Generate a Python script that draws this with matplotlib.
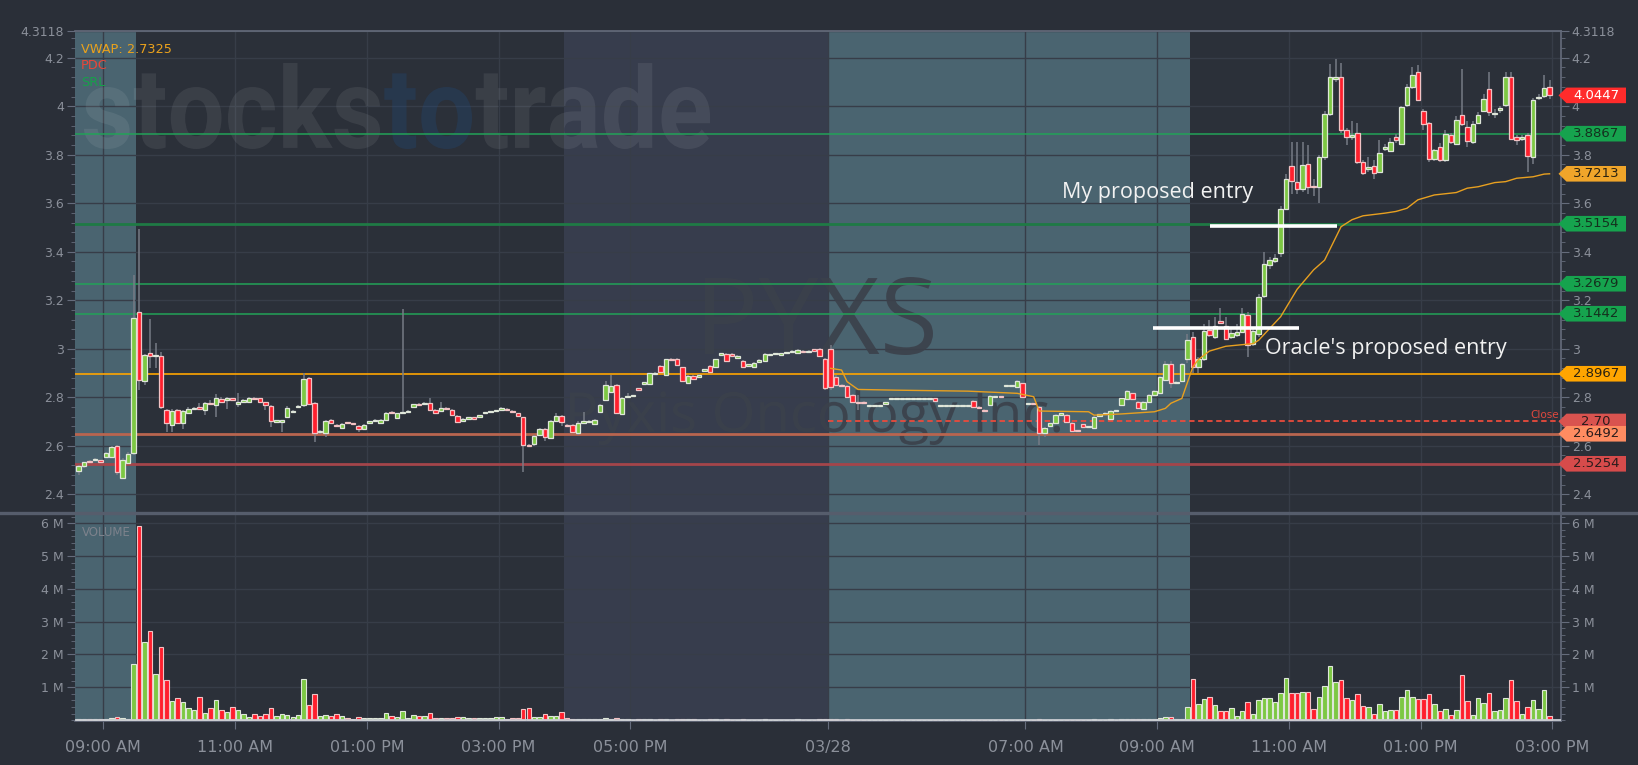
import numpy as np
import matplotlib
matplotlib.use("Agg")
import matplotlib.pyplot as plt
from matplotlib.patches import Rectangle, Polygon, PathPatch
from matplotlib.collections import LineCollection
from matplotlib.lines import Line2D
from matplotlib.textpath import TextPath, TextToPath
from matplotlib.font_manager import FontProperties
from matplotlib.transforms import Affine2D, IdentityTransform
from matplotlib.ticker import FixedLocator, MultipleLocator

# ===================== DATA (5-minute bars, PYXS) =====================
# Day 1 (03/27) pre-market 08:35-09:25
d1_pre_start = "08:35"
d1_pre_open = [2.497, 2.515, 2.537, 2.540, 2.540, 2.552, 2.554, 2.598, 2.468, 2.530, 2.568]
d1_pre_high = [2.520, 2.533, 2.540, 2.550, 2.542, 2.572, 2.600, 2.602, 2.550, 2.572, 3.304]
d1_pre_low = [2.479, 2.510, 2.528, 2.536, 2.532, 2.548, 2.550, 2.480, 2.462, 2.525, 2.560]
d1_pre_close = [2.516, 2.531, 2.531, 2.545, 2.534, 2.568, 2.596, 2.493, 2.543, 2.566, 3.128]
d1_pre_vol = [0.03, 0.02, 0.02, 0.02, 0.02, 0.04, 0.05, 0.10, 0.06, 0.04, 1.71]

# Day 1 regular session 09:30-15:55
d1_reg_start = "09:30"
d1_reg_open = [3.152, 2.866, 2.981, 2.970, 2.971, 2.747,
               2.685, 2.747, 2.692, 2.736, 2.750, 2.757,
               2.747, 2.777, 2.767, 2.794, 2.788, 2.795,
               2.772, 2.781, 2.781, 2.798, 2.795, 2.779,
               2.765, 2.697, 2.700, 2.719, 2.737, 2.758,
               2.767, 2.878, 2.777, 2.655, 2.651, 2.706,
               2.685, 2.674, 2.696, 2.692, 2.681, 2.670,
               2.696, 2.700, 2.695, 2.708, 2.740, 2.715,
               2.737, 2.740, 2.761, 2.772, 2.772, 2.777,
               2.747, 2.744, 2.757, 2.747, 2.723, 2.703,
               2.710, 2.717, 2.720, 2.733, 2.738, 2.742,
               2.747, 2.751, 2.744, 2.733, 2.717, 2.603,
               2.607, 2.644, 2.667, 2.630, 2.703, 2.724]
d1_reg_high = [3.492, 2.980, 3.121, 3.022, 2.985, 2.750,
               2.750, 2.752, 2.748, 2.760, 2.758, 2.775,
               2.780, 2.790, 2.815, 2.800, 2.800, 2.798,
               2.816, 2.792, 2.802, 2.800, 2.798, 2.782,
               2.768, 2.708, 2.708, 2.762, 2.748, 2.766,
               2.898, 2.882, 2.780, 2.664, 2.706, 2.710,
               2.688, 2.693, 2.699, 2.695, 2.684, 2.690,
               2.703, 2.709, 2.711, 2.740, 2.744, 2.736,
               3.162, 2.747, 2.773, 2.776, 2.781, 2.795,
               2.750, 2.781, 2.760, 2.750, 2.726, 2.714,
               2.720, 2.720, 2.728, 2.741, 2.745, 2.749,
               2.760, 2.754, 2.747, 2.736, 2.720, 2.606,
               2.645, 2.672, 2.672, 2.706, 2.735, 2.728]
d1_reg_low = [2.829, 2.850, 2.919, 2.919, 2.750, 2.657,
              2.657, 2.688, 2.667, 2.732, 2.746, 2.750,
              2.726, 2.768, 2.719, 2.778, 2.750, 2.785,
              2.761, 2.778, 2.779, 2.788, 2.778, 2.747,
              2.678, 2.694, 2.657, 2.716, 2.733, 2.755,
              2.760, 2.770, 2.616, 2.650, 2.637, 2.688,
              2.678, 2.670, 2.690, 2.686, 2.657, 2.667,
              2.693, 2.697, 2.692, 2.705, 2.730, 2.712,
              2.734, 2.737, 2.758, 2.763, 2.769, 2.745,
              2.730, 2.740, 2.747, 2.722, 2.696, 2.700,
              2.707, 2.709, 2.717, 2.730, 2.735, 2.739,
              2.744, 2.743, 2.737, 2.721, 2.493, 2.597,
              2.600, 2.640, 2.620, 2.626, 2.700, 2.680]
d1_reg_close = [2.871, 2.974, 2.970, 2.975, 2.761, 2.692,
                2.743, 2.692, 2.743, 2.750, 2.754, 2.754,
                2.777, 2.772, 2.798, 2.781, 2.795, 2.788,
                2.779, 2.788, 2.798, 2.792, 2.781, 2.767,
                2.702, 2.704, 2.704, 2.757, 2.744, 2.763,
                2.875, 2.774, 2.651, 2.660, 2.702, 2.692,
                2.682, 2.689, 2.694, 2.689, 2.667, 2.686,
                2.700, 2.706, 2.708, 2.736, 2.733, 2.733,
                2.740, 2.744, 2.770, 2.766, 2.777, 2.747,
                2.733, 2.757, 2.750, 2.726, 2.699, 2.711,
                2.717, 2.712, 2.725, 2.738, 2.742, 2.746,
                2.757, 2.746, 2.740, 2.724, 2.603, 2.600,
                2.640, 2.667, 2.634, 2.702, 2.722, 2.699]
d1_reg_vol = [5.91, 2.37, 2.71, 1.40, 2.23, 1.22,
              0.58, 0.67, 0.56, 0.38, 0.30, 0.70,
              0.22, 0.38, 0.61, 0.30, 0.24, 0.40,
              0.30, 0.18, 0.09, 0.18, 0.12, 0.19,
              0.37, 0.12, 0.19, 0.15, 0.09, 0.15,
              1.25, 0.45, 0.79, 0.12, 0.15, 0.12,
              0.19, 0.12, 0.06, 0.02, 0.09, 0.06,
              0.05, 0.05, 0.05, 0.22, 0.12, 0.09,
              0.28, 0.05, 0.15, 0.12, 0.12, 0.22,
              0.06, 0.06, 0.06, 0.06, 0.09, 0.09,
              0.06, 0.05, 0.05, 0.05, 0.05, 0.09,
              0.09, 0.04, 0.06, 0.06, 0.35, 0.37,
              0.09, 0.09, 0.18, 0.12, 0.12, 0.25]

# Day 1 after-hours 16:00-19:55
d1_ah_start = "16:00"
d1_ah_open = [2.684, 2.685, 2.651, 2.695, 2.700, 2.690,
              2.737, 2.788, 2.823, 2.850, 2.729, 2.800,
              2.806, 2.836, 2.857, 2.854, 2.898, 2.930,
              2.891, 2.956, 2.956, 2.923, 2.860, 2.887,
              2.884, 2.909, 2.929, 2.923, 2.974, 2.978,
              2.978, 2.963, 2.949, 2.931, 2.923, 2.944,
              2.951, 2.973, 2.977, 2.974, 2.981, 2.986,
              2.984, 2.990, 2.986, 2.997, 3.000, 2.956]
d1_ah_high = [2.690, 2.690, 2.700, 2.740, 2.705, 2.709,
              2.771, 2.865, 2.891, 2.853, 2.801, 2.816,
              2.810, 2.839, 2.864, 2.901, 2.903, 2.933,
              2.959, 2.960, 2.960, 2.926, 2.890, 2.890,
              2.894, 2.918, 2.932, 2.959, 2.984, 2.981,
              2.981, 2.973, 2.952, 2.938, 2.945, 2.956,
              2.981, 2.980, 2.984, 2.984, 2.988, 2.995,
              2.998, 2.993, 2.993, 3.000, 3.003, 2.960]
d1_ah_low = [2.676, 2.652, 2.645, 2.690, 2.697, 2.688,
             2.734, 2.785, 2.820, 2.730, 2.726, 2.797,
             2.800, 2.829, 2.854, 2.851, 2.895, 2.899,
             2.888, 2.952, 2.930, 2.864, 2.857, 2.872,
             2.881, 2.906, 2.902, 2.920, 2.971, 2.948,
             2.968, 2.960, 2.923, 2.928, 2.920, 2.941,
             2.948, 2.970, 2.974, 2.971, 2.978, 2.983,
             2.981, 2.982, 2.983, 2.990, 2.968, 2.830]
d1_ah_close = [2.680, 2.655, 2.695, 2.702, 2.702, 2.706,
               2.768, 2.850, 2.847, 2.733, 2.798, 2.806,
               2.806, 2.832, 2.861, 2.898, 2.900, 2.902,
               2.956, 2.955, 2.933, 2.867, 2.887, 2.875,
               2.891, 2.915, 2.905, 2.956, 2.981, 2.951,
               2.971, 2.970, 2.926, 2.935, 2.942, 2.953,
               2.978, 2.977, 2.981, 2.981, 2.985, 2.992,
               2.995, 2.985, 2.990, 2.993, 2.971, 2.836]
d1_ah_vol = [0.05, 0.04, 0.04, 0.03, 0.02, 0.03,
             0.04, 0.05, 0.04, 0.05, 0.03, 0.02,
             0.01, 0.02, 0.02, 0.03, 0.01, 0.02,
             0.03, 0.01, 0.02, 0.03, 0.02, 0.02,
             0.01, 0.01, 0.02, 0.02, 0.01, 0.02,
             0.01, 0.01, 0.02, 0.01, 0.01, 0.01,
             0.02, 0.01, 0.01, 0.01, 0.01, 0.01,
             0.02, 0.01, 0.01, 0.01, 0.02, 0.04]

# Day 2 (03/28) pre-market 04:00-09:25
d2_pre_start = "04:00"
d2_pre_open = [2.999, 2.885, 2.850, 2.846, 2.809, 2.781,
               2.781, 2.767, 2.767, 2.767, 2.775, 2.795,
               2.795, 2.795, 2.795, 2.795, 2.795, 2.795,
               2.795, 2.795, 2.767, 2.767, 2.767, 2.767,
               2.767, 2.767, 2.785, 2.761, 2.747, 2.768,
               2.803, 2.805, 2.846, 2.848, 2.841, 2.857,
               2.775, 2.775, 2.761, 2.654, 2.682, 2.692,
               2.726, 2.726, 2.695, 2.664, 2.688, 2.678,
               2.671, 2.725, 2.729, 2.709, 2.743, 2.768,
               2.791, 2.816, 2.781, 2.750, 2.781, 2.809,
               2.819, 2.871, 2.937, 2.857, 2.867, 2.957]
d2_pre_high = [3.016, 2.892, 2.853, 2.850, 2.812, 2.809,
               2.784, 2.767, 2.767, 2.767, 2.780, 2.795,
               2.795, 2.795, 2.795, 2.795, 2.795, 2.795,
               2.795, 2.797, 2.767, 2.767, 2.767, 2.767,
               2.767, 2.767, 2.788, 2.764, 2.750, 2.808,
               2.803, 2.807, 2.852, 2.848, 2.870, 2.860,
               2.775, 2.777, 2.764, 2.677, 2.695, 2.729,
               2.736, 2.729, 2.698, 2.666, 2.690, 2.678,
               2.723, 2.731, 2.739, 2.746, 2.749, 2.798,
               2.828, 2.819, 2.784, 2.784, 2.812, 2.828,
               2.888, 2.950, 2.950, 2.865, 2.940, 3.060]
d2_pre_low = [2.829, 2.845, 2.843, 2.798, 2.778, 2.747,
              2.772, 2.767, 2.767, 2.767, 2.773, 2.795,
              2.795, 2.795, 2.795, 2.795, 2.795, 2.795,
              2.795, 2.784, 2.767, 2.767, 2.767, 2.767,
              2.767, 2.767, 2.758, 2.755, 2.740, 2.765,
              2.803, 2.797, 2.844, 2.848, 2.838, 2.799,
              2.775, 2.771, 2.603, 2.636, 2.680, 2.690,
              2.723, 2.696, 2.659, 2.657, 2.675, 2.678,
              2.668, 2.722, 2.726, 2.706, 2.740, 2.765,
              2.788, 2.788, 2.751, 2.747, 2.778, 2.806,
              2.816, 2.868, 2.840, 2.854, 2.864, 2.940]
d2_pre_close = [2.843, 2.850, 2.846, 2.802, 2.781, 2.777,
                2.775, 2.767, 2.767, 2.767, 2.778, 2.795,
                2.795, 2.795, 2.795, 2.795, 2.795, 2.795,
                2.795, 2.786, 2.767, 2.767, 2.767, 2.767,
                2.767, 2.767, 2.761, 2.757, 2.743, 2.805,
                2.803, 2.799, 2.850, 2.848, 2.867, 2.802,
                2.775, 2.773, 2.654, 2.674, 2.692, 2.726,
                2.733, 2.699, 2.662, 2.660, 2.678, 2.678,
                2.720, 2.729, 2.736, 2.743, 2.747, 2.795,
                2.825, 2.791, 2.754, 2.781, 2.809, 2.825,
                2.885, 2.937, 2.857, 2.862, 2.937, 3.036]
d2_pre_vol = [0.03, 0.02, 0.01, 0.02, 0.01, 0.01,
              0.01, 0.005, 0.005, 0.005, 0.005, 0.005,
              0.005, 0.005, 0.005, 0.005, 0.005, 0.005,
              0.005, 0.01, 0.005, 0.005, 0.005, 0.005,
              0.005, 0.005, 0.01, 0.01, 0.01, 0.01,
              0.005, 0.01, 0.01, 0.005, 0.01, 0.01,
              0.005, 0.01, 0.02, 0.01, 0.01, 0.01,
              0.01, 0.01, 0.01, 0.01, 0.01, 0.005,
              0.02, 0.01, 0.01, 0.02, 0.01, 0.02,
              0.02, 0.02, 0.02, 0.02, 0.02, 0.03,
              0.05, 0.08, 0.10, 0.03, 0.04, 0.41]

# Day 2 regular session 09:30-14:55
d2_reg_start = "09:30"
d2_reg_open = [3.049, 2.925, 2.958, 3.079, 3.049, 3.114,
               3.094, 3.049, 3.056, 3.070, 3.139, 3.020,
               3.060, 3.217, 3.345, 3.363, 3.393, 3.578,
               3.753, 3.689, 3.658, 3.761, 3.670, 3.666,
               3.791, 3.969, 4.112, 4.119, 3.900, 3.873,
               3.891, 3.771, 3.743, 3.754, 3.730, 3.825,
               3.814, 3.873, 3.846, 4.003, 4.078, 4.142,
               3.982, 3.930, 3.784, 3.832, 3.778, 3.880,
               3.846, 3.962, 3.914, 3.853, 3.930, 3.982,
               4.071, 3.966, 3.985, 4.003, 4.122, 3.873,
               3.866, 3.880, 3.791, 4.033, 4.041, 4.081]
d2_reg_high = [3.070, 2.965, 3.100, 3.120, 3.130, 3.166,
               3.130, 3.080, 3.100, 3.166, 3.150, 3.090,
               3.225, 3.400, 3.380, 3.390, 3.590, 3.720,
               3.853, 3.853, 3.853, 3.840, 3.700, 3.800,
               3.980, 4.173, 4.194, 4.180, 3.910, 3.940,
               3.930, 3.780, 3.790, 3.780, 3.860, 3.845,
               3.870, 3.885, 4.000, 4.090, 4.160, 4.170,
               3.990, 3.935, 3.825, 3.850, 3.900, 3.890,
               3.960, 4.153, 3.940, 3.940, 3.975, 4.050,
               4.140, 3.990, 4.000, 4.140, 4.140, 3.880,
               3.880, 3.890, 4.035, 4.050, 4.130, 4.110]
d2_reg_low = [2.900, 2.900, 2.950, 3.050, 3.040, 3.100,
              3.035, 3.040, 3.050, 3.065, 2.967, 3.010,
              3.050, 3.210, 3.330, 3.355, 3.380, 3.570,
              3.640, 3.640, 3.645, 3.640, 3.630, 3.600,
              3.780, 3.960, 4.100, 3.890, 3.840, 3.860,
              3.760, 3.715, 3.730, 3.700, 3.725, 3.815,
              3.810, 3.850, 3.840, 3.995, 4.070, 4.020,
              3.900, 3.770, 3.775, 3.770, 3.770, 3.845,
              3.840, 3.920, 3.830, 3.845, 3.925, 3.975,
              3.960, 3.950, 3.970, 3.995, 3.860, 3.840,
              3.855, 3.730, 3.760, 4.025, 4.035, 4.030]
d2_reg_close = [2.925, 2.958, 3.075, 3.056, 3.094, 3.104,
                3.042, 3.063, 3.070, 3.145, 3.015, 3.075,
                3.214, 3.349, 3.365, 3.375, 3.578, 3.700,
                3.690, 3.658, 3.757, 3.666, 3.666, 3.791,
                3.969, 4.119, 4.119, 3.900, 3.873, 3.880,
                3.768, 3.726, 3.750, 3.726, 3.807, 3.832,
                3.853, 3.859, 3.996, 4.081, 4.130, 4.026,
                3.928, 3.784, 3.818, 3.778, 3.887, 3.853,
                3.942, 3.928, 3.855, 3.928, 3.962, 4.030,
                3.975, 3.973, 3.992, 4.122, 3.866, 3.859,
                3.873, 3.794, 4.027, 4.040, 4.075, 4.045]
d2_reg_vol = [1.25, 0.49, 0.64, 0.69, 0.45, 0.27,
              0.27, 0.36, 0.14, 0.27, 0.55, 0.20,
              0.61, 0.66, 0.66, 0.56, 0.83, 1.28,
              0.84, 0.84, 0.87, 0.87, 0.33, 0.69,
              1.04, 1.65, 1.16, 1.22, 0.67, 0.61,
              0.79, 0.43, 0.40, 0.20, 0.49, 0.27,
              0.30, 0.30, 0.69, 0.91, 0.70, 0.64,
              0.64, 0.79, 0.49, 0.27, 0.34, 0.17,
              0.30, 1.37, 0.58, 0.15, 0.67, 0.52,
              0.82, 0.27, 0.30, 0.67, 1.22, 0.58,
              0.18, 0.40, 0.61, 0.34, 0.91, 0.14]

# Day 2 VWAP
vwap_times = ["04:00", "04:10", "04:15", "04:25", "05:00", "06:05", "06:50", "07:05",
              "07:10", "07:55", "08:00", "08:25", "08:55", "09:05", "09:10", "09:20",
              "09:30", "09:35", "09:45", "10:00", "10:25", "10:30", "10:50", "11:05",
              "11:20", "11:30", "11:45", "11:55", "12:05", "12:25", "12:35", "12:45",
              "12:55", "13:10", "13:30", "13:40", "13:50", "14:05", "14:15", "14:25",
              "14:40", "14:50", "14:55"]
vwap_values = [2.919, 2.912, 2.864, 2.832, 2.829, 2.825, 2.816, 2.802,
               2.743, 2.740, 2.726, 2.731, 2.740, 2.754, 2.775, 2.795,
               2.925, 2.955, 2.990, 3.010, 3.021, 3.035, 3.132, 3.245,
               3.325, 3.365, 3.503, 3.532, 3.548, 3.559, 3.566, 3.579,
               3.614, 3.634, 3.644, 3.662, 3.668, 3.685, 3.689, 3.703,
               3.709, 3.720, 3.7213]

# Horizontal levels
srl_levels = [3.8867, 3.5154, 3.2679, 3.1442]
pdc_level = 2.70
orange_level = 2.8967
salmon_level = 2.6492
red_level = 2.5254
last_price = 4.0447
vwap_last = 3.7213

# Annotations (day 2 times)
my_entry_price = 3.507
my_entry_span = ("09:48", "11:44")
oracle_entry_price = 3.086
oracle_entry_span = ("08:56", "11:09")
my_text_pos = ("07:33", 3.621)
oracle_text_pos = ("10:38", 2.978)

# Axis ticks
price_ticks = [2.4, 2.6, 2.8, 3.0, 3.2, 3.4, 3.6, 3.8, 4.0, 4.2, 4.3118]
price_tick_labels = ["2.4", "2.6", "2.8", "3", "3.2", "3.4", "3.6", "3.8", "4", "4.2", "4.3118"]
vol_ticks = [1, 2, 3, 4, 5, 6]
vol_tick_labels = ["1 M", "2 M", "3 M", "4 M", "5 M", "6 M"]
time_ticks = [(1, "09:00"), (1, "11:00"), (1, "13:00"), (1, "15:00"), (1, "17:00"),
              (2, "04:00"), (2, "07:00"), (2, "09:00"), (2, "11:00"), (2, "13:00"), (2, "15:00")]
time_tick_labels = ["09:00 AM", "11:00 AM", "01:00 PM", "03:00 PM", "05:00 PM", "03/28",
                    "07:00 AM", "09:00 AM", "11:00 AM", "01:00 PM", "03:00 PM"]

# ===================== SCALE / STYLE =====================
W, H = 1638, 765
DAY2_OFFSET = 16.0  # overnight 20:00 -> 04:00 gap removed
BAR = 5 / 60.0
BG = "#2a2f38"
AXBG = "#2b3039"
TEAL = "#4a6470"
AHC = "#373d4d"
GRID = "#373d48"
SPINE = "#656c7c"
TXT = "#8b909a"
GREEN = "#7dc843"
RED = "#ff1f2d"
EDGE_G = "#dfe6da"
EDGE_R = "#f2c2c4"
WICK = "#767b85"
CW = 0.068


def hh(s):
    h, m = s.split(":")
    return int(h) + int(m) / 60.0


def tx(day, s):
    return hh(s) + (DAY2_OFFSET if day == 2 else 0.0)


def bar_x(day, start, n):
    return tx(day, start) + (np.arange(n) + 0.5) * BAR


sessions = [
    (1, d1_pre_start, d1_pre_open, d1_pre_high, d1_pre_low, d1_pre_close, d1_pre_vol),
    (1, d1_reg_start, d1_reg_open, d1_reg_high, d1_reg_low, d1_reg_close, d1_reg_vol),
    (1, d1_ah_start, d1_ah_open, d1_ah_high, d1_ah_low, d1_ah_close, d1_ah_vol),
    (2, d2_pre_start, d2_pre_open, d2_pre_high, d2_pre_low, d2_pre_close, d2_pre_vol),
    (2, d2_reg_start, d2_reg_open, d2_reg_high, d2_reg_low, d2_reg_close, d2_reg_vol),
]

fig = plt.figure(figsize=(W / 100, H / 100), dpi=100, facecolor=BG)


def px_axes(l, t, r, b):
    return fig.add_axes([l / W, 1 - b / H, (r - l) / W, (b - t) / H])


PL, PR = 75.2, 1560.7
ax = px_axes(PL, 30.6, PR, 512.0)
axv = px_axes(PL, 514.0, PR, 720.5)

XLIM = (8.572, 31.127)
YLIM = (2.3266, 4.3118)
VLIM = (-0.012, 6.28)

for a in (ax, axv):
    a.set_facecolor(AXBG)
    a.set_axisbelow(True)
    a.set_xlim(*XLIM)
    # session shading
    a.axvspan(7.0, tx(1, "09:30"), color=TEAL, zorder=0.2, lw=0)
    a.axvspan(tx(1, "16:00"), tx(1, "20:00"), color=AHC, zorder=0.2, lw=0)
    a.axvspan(tx(2, "04:00"), tx(2, "09:30"), color=TEAL, zorder=0.2, lw=0)
    a.set_xticks([tx(d, s) for d, s in time_ticks])
    a.grid(True, which="major", color=GRID, lw=1.0)
    for sp in a.spines.values():
        sp.set_visible(False)
    a.spines["right"].set_visible(True)
    a.spines["right"].set_color(SPINE)
    a.spines["right"].set_linewidth(1.2)

ax.set_ylim(*YLIM)
axv.set_ylim(*VLIM)
ax.spines["top"].set_visible(True)
ax.spines["top"].set_color(SPINE)
ax.spines["top"].set_linewidth(1.2)
axv.spines["bottom"].set_visible(True)
axv.spines["bottom"].set_color(SPINE)
axv.spines["bottom"].set_linewidth(1.2)

# y ticks price
ax.yaxis.set_major_locator(FixedLocator(price_ticks))
ax.set_yticklabels(price_tick_labels)
ax.yaxis.set_minor_locator(FixedLocator(np.arange(2.36, 4.31, 0.04)))
ax.tick_params(axis="y", which="both", left=True, right=True, labelleft=True, labelright=True,
               direction="out", color=SPINE, labelcolor=TXT, labelsize=9, pad=2)
ax.tick_params(axis="y", which="major", length=6)
ax.tick_params(axis="y", which="minor", length=3)
ax.tick_params(axis="x", which="both", length=0, labelbottom=False)

axv.yaxis.set_major_locator(FixedLocator(vol_ticks))
axv.set_yticklabels(vol_tick_labels)
axv.yaxis.set_minor_locator(MultipleLocator(0.2))
axv.tick_params(axis="y", which="both", left=True, right=True, labelleft=True, labelright=True,
                direction="out", color=SPINE, labelcolor=TXT, labelsize=9, pad=2)
axv.tick_params(axis="y", which="major", length=6)
axv.tick_params(axis="y", which="minor", length=3)
axv.set_xticklabels(time_tick_labels)
axv.tick_params(axis="x", which="major", length=6, color=SPINE, labelcolor=TXT,
                labelsize=11.5, pad=8)


# ----- watermarks -----
def add_fitted(target_ax, pieces, box, family, weight, z):
    # pieces: list of (text, color, alpha); fit overall extents into box (x0, ytop, x1, ybot) in px
    prop = FontProperties(family=family, weight=weight, size=100)
    full = "".join(p[0] for p in pieces)
    full_tp = TextPath((0, 0), full, size=100, prop=prop)
    ext = full_tp.get_extents()
    x0, yt, x1, yb = box
    sx = (x1 - x0) / ext.width
    sy = (yb - yt) / ext.height
    tr = Affine2D().translate(-ext.x0, -ext.y0).scale(sx, sy).translate(x0, H - yb)
    t2p = TextToPath()
    adv = 0.0
    for text, color, alpha in pieces:
        tp = TextPath((adv, 0), text, size=100, prop=prop)
        patch = PathPatch(tr.transform_path(tp), transform=IdentityTransform(),
                          fc=color, ec="none", alpha=alpha, zorder=z)
        target_ax.add_patch(patch)
        w, _, _ = t2p.get_text_width_height_descent(text, prop, ismath=False)
        adv += w


add_fitted(ax, [("stocks", "#ffffff", 0.075), ("to", "#1d4f8a", 0.26), ("trade", "#ffffff", 0.075)],
           (84, 63, 710, 149), "Roboto", "bold", 0.8)
add_fitted(ax, [("PYXS", "#3b414b", 0.9)], (705, 277, 933, 355), "Open Sans", "normal", 0.8)
add_fitted(ax, [("Pyxis Oncology Inc.", "#3b414b", 0.9)], (570, 390, 1060, 445), "Open Sans", "normal", 0.8)

# ----- level lines -----
for i, lv in enumerate(srl_levels):
    if i == 1:
        ax.axhline(lv, color="#1f7a45", lw=2.0, zorder=2)
    else:
        ax.axhline(lv, color="#22a258", lw=1.1, zorder=2)
ax.axhline(orange_level, color="#ffa500", lw=1.2, zorder=2)
ax.axhline(salmon_level, color="#b9654f", lw=2.0, zorder=2)
ax.axhline(red_level, color="#a4454a", lw=2.0, zorder=2)
ax.plot([tx(2, "04:00"), XLIM[1]], [pdc_level, pdc_level], color="#ea4b3c", lw=1.3,
        dashes=(3, 2), zorder=2)

# ----- candles & volume -----
for day, start, o, h, l, c, v in sessions:
    o = np.array(o); h = np.array(h); l = np.array(l); c = np.array(c); v = np.array(v)
    x = bar_x(day, start, len(o))
    up = c >= o
    segs = [((xi, li), (xi, hi)) for xi, li, hi in zip(x, l, h)]
    ax.add_collection(LineCollection(segs, colors=WICK, linewidths=1.1, zorder=3))
    for xi, oi, ci, u in zip(x, o, c, up):
        lo, hi = min(oi, ci), max(oi, ci)
        if hi - lo < 0.005:
            mid = (hi + lo) / 2
            lo, hi = mid - 0.0025, mid + 0.0025
        ax.add_patch(Rectangle((xi - CW / 2, lo), CW, hi - lo,
                               fc=GREEN if u else RED, ec=EDGE_G if u else EDGE_R,
                               lw=0.9, zorder=4))
    axv.bar(x, v, width=CW, color=np.where(up, GREEN, RED),
            edgecolor=np.where(up, EDGE_G, EDGE_R), lw=0.8, zorder=3)
axv.axhline(0, color="#c9ccd2", lw=1.3, zorder=3.5)

# ----- VWAP -----
vx = np.array([tx(2, s) for s in vwap_times]) + BAR / 2
ax.plot(vx, vwap_values, color="#e8a020", lw=1.0, zorder=5)

# ----- annotations -----
ax.plot([tx(2, my_entry_span[0]), tx(2, my_entry_span[1])], [my_entry_price] * 2,
        color="white", lw=2.6, zorder=6, solid_capstyle="butt")
ax.plot([tx(2, oracle_entry_span[0]), tx(2, oracle_entry_span[1])], [oracle_entry_price] * 2,
        color="white", lw=2.6, zorder=6, solid_capstyle="butt")
ax.text(tx(2, my_text_pos[0]), my_text_pos[1], "My proposed entry", color="#f2f2f2",
        fontsize=15.5, family="Open Sans", va="baseline", ha="left", zorder=7)
ax.text(tx(2, oracle_text_pos[0]), oracle_text_pos[1], "Oracle's proposed entry", color="#f2f2f2",
        fontsize=15.5, family="Open Sans", va="baseline", ha="left", zorder=7)

# legend / panel titles
fig.text(81 / W, 1 - 49.3 / H, "VWAP: 2.7325", color="#eba21c", fontsize=9.3, va="center")
fig.text(81 / W, 1 - 65.8 / H, "PDC", color="#e8473a", fontsize=9.3, va="center")
fig.text(81 / W, 1 - 82.3 / H, "SRL", color="#17a04a", fontsize=9.3, va="center")
fig.text(82 / W, 1 - 532 / H, "VOLUME", color="#7d828c", fontsize=8.5, va="center")

# "Close" tag
ax.text(XLIM[1] - 0.03, pdc_level + 0.008, "Close", color="#e0483e", fontsize=7.5,
        ha="right", va="bottom", zorder=7)

# separator between panels
fig.add_artist(Line2D([0, 1], [1 - 512.8 / H] * 2, transform=fig.transFigure,
                      color="#565d6c", lw=2.4))


# ----- right-side price labels -----
def price_tag(price, fc, tc, text):
    y = ax.transData.transform((XLIM[0], price))[1]
    xt, xb, xr, hh_ = 1558.5, 1566.5, 1626.0, 7.8
    poly = Polygon([(xt, y), (xb, y + hh_), (xr, y + hh_), (xr, y - hh_), (xb, y - hh_)],
                   closed=True, transform=IdentityTransform(), fc=fc, ec="none", zorder=10)
    fig.add_artist(poly)
    fig.text((xb + xr) / 2 / W, y / H, text, color=tc, fontsize=9.5, ha="center",
             va="center", zorder=11)


price_tag(pdc_level, "#d9534f", "#2a1c1c", "2.70")
price_tag(salmon_level, "#ff8c61", "#2a1c1c", "2.6492")
price_tag(red_level, "#d64b4b", "#2a1c1c", "2.5254")
price_tag(orange_level, "#ffa500", "#2a2210", "2.8967")
for lv in srl_levels:
    price_tag(lv, "#16a34e", "#14301e", f"{lv:.4f}")
price_tag(vwap_last, "#f0a52a", "#2a2210", "3.7213")
price_tag(last_price, "#ff2b2b", "#ffffff", "4.0447")

fig.savefig("out.png", dpi=100, facecolor=BG)
